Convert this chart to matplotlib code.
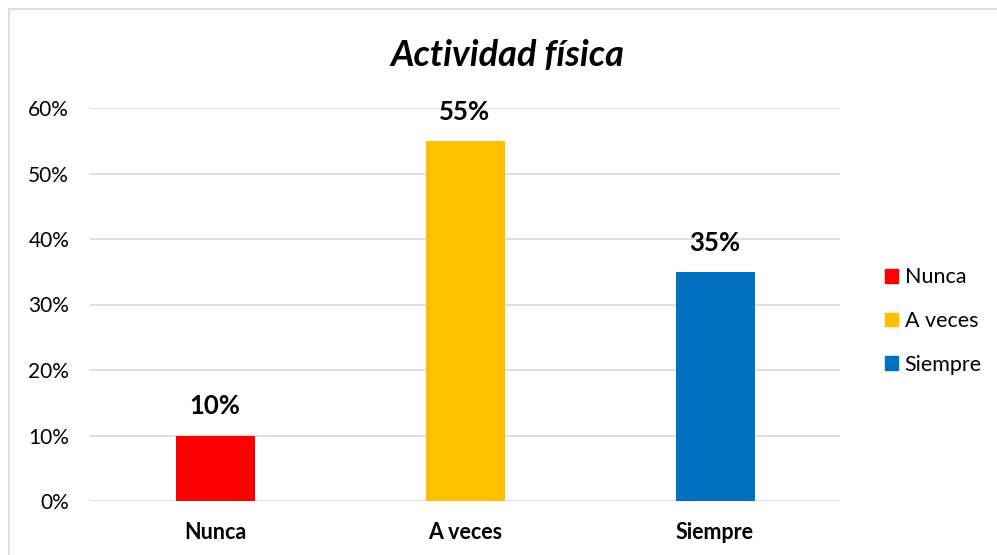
import matplotlib.pyplot as plt
from matplotlib.patches import Rectangle, Patch
from matplotlib.ticker import PercentFormatter

plt.rcParams['font.family'] = ['Lato', 'DejaVu Sans']

categorias = ['Nunca', 'A veces', 'Siempre']
valores = [0.10, 0.55, 0.35]
colores = ['#FF0000', '#FFC000', '#0070C0']
ticks_y = [0, 0.1, 0.2, 0.3, 0.4, 0.5, 0.6]

fig = plt.figure(figsize=(9.97, 5.55), dpi=100)

# marco gris del gráfico
fig.patches.append(Rectangle((9 / 997, -0.1), 1.2, 1 - 9 / 555 + 0.1,
                             transform=fig.transFigure, fill=False,
                             edgecolor='#D9D9D9', linewidth=1.2))

ax = fig.add_axes([90 / 997, 1 - 501 / 555, 750 / 997, (501 - 108) / 555])
x = range(len(categorias))
barras = ax.bar(x, valores, width=0.316, color=colores, zorder=3)

ax.set_xlim(-0.5, 2.5)
ax.set_ylim(0, 0.6)
ax.set_yticks(ticks_y)
ax.yaxis.set_major_formatter(PercentFormatter(1.0, decimals=0))
ax.set_xticks(list(x))
ax.set_xticklabels(categorias, fontsize=15.5, fontweight='bold')
ax.tick_params(axis='y', labelsize=15, length=0, pad=15)
ax.tick_params(axis='x', length=0, pad=15)
ax.grid(axis='y', color='#D9D9D9', linewidth=1.2, zorder=0)
for s in ax.spines.values():
    s.set_visible(False)

for b, v in zip(barras, valores):
    ax.annotate(f'{v:.0%}', (b.get_x() + b.get_width() / 2, v),
                xytext=(0, 21), textcoords='offset points',
                ha='center', va='center', fontsize=18.5, fontweight='bold')

fig.text(507 / 997, 1 - 55 / 555, 'Actividad física', ha='center', va='center',
         fontsize=26, fontweight='bold', fontstyle='italic')

handles = [Patch(color=c) for c in colores]
fig.legend(handles, categorias, loc='center left',
           bbox_to_anchor=(866 / 997, 1 - 321 / 555), frameon=False,
           fontsize=15.5, handlelength=0.6, handleheight=0.6,
           handletextpad=0.3, labelspacing=1.1)

fig.savefig('out.png', dpi=100)
